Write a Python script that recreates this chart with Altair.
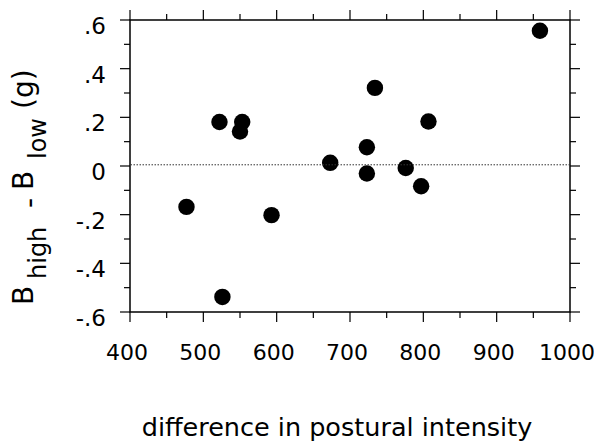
import altair as alt
import pandas as pd

# data
x_vals = [959, 807, 776, 797, 522, 553, 550, 723, 673, 723, 477, 593, 526, 734]
y_vals = [0.556, 0.183, -0.008, -0.083, 0.181, 0.181, 0.142, 0.077, 0.013, -0.031, -0.168, -0.202, -0.538, 0.321]
ref_line = [0.005]

x_major = [400, 500, 600, 700, 800, 900, 1000]
x_labels = ["400", "500", "600", "700", "800", "900", "1000"]
x_minor = [450, 550, 650, 750, 850, 950]
y_major = [-0.6, -0.4, -0.2, 0.0, 0.2, 0.4, 0.6]
y_labels = ["-.6", "-.4", "-.2", "0", ".2", ".4", ".6"]
y_minor = [-0.5, -0.3, -0.1, 0.1, 0.3, 0.5]

x_title = "difference in postural intensity"
y_title_parts = ["B", "high", "-", "B", "low", "(g)"]

W, H = 440, 292
FONT = "DejaVu Sans"

pts = pd.DataFrame({"x": x_vals, "y": y_vals})
xs = alt.Scale(domain=[400, 1000], nice=False, zero=False)
ys = alt.Scale(domain=[-0.6, 0.6], nice=False, zero=False)

points = alt.Chart(pts).mark_circle(size=270, color="black", opacity=1).encode(
    x=alt.X("x:Q", scale=xs, axis=None),
    y=alt.Y("y:Q", scale=ys, axis=None),
)

ref = alt.Chart(pd.DataFrame({"r": ref_line})).mark_rule(
    color="#333", strokeWidth=1, strokeDash=[1.5, 1.5]
).encode(y=alt.Y("r:Q", scale=ys, axis=None))

def xticks(vals, y0, y1):
    return alt.Chart(pd.DataFrame({"v": vals})).mark_rule(color="black", strokeWidth=1.2).encode(
        x=alt.X("v:Q", scale=xs, axis=None), y=alt.value(y0), y2=alt.value(y1))

def yticks(vals, x0, x1):
    return alt.Chart(pd.DataFrame({"v": vals})).mark_rule(color="black", strokeWidth=1.2).encode(
        y=alt.Y("v:Q", scale=ys, axis=None), x=alt.value(x0), x2=alt.value(x1))

ticks = [
    xticks(x_major, H, H + 10),
    xticks(x_minor, H, H + 6),
    xticks(x_major, 0, -10),
    xticks(x_minor, 0, -6),
    yticks(y_major, 0, -10),
    yticks(y_minor, 0, -6),
    yticks(y_major, W, W + 10),
    yticks(y_minor, W, W + 6),
]

xlab = alt.Chart(pd.DataFrame({"v": x_major, "t": x_labels})).mark_text(
    font=FONT, fontSize=22, color="black", baseline="alphabetic", align="center", dx=-3
).encode(x=alt.X("v:Q", scale=xs, axis=None), y=alt.value(H + 48), text="t:N")

ylab = alt.Chart(pd.DataFrame({"v": y_major, "t": y_labels})).mark_text(
    font=FONT, fontSize=23, color="black", baseline="alphabetic", align="right", dy=14
).encode(y=alt.Y("v:Q", scale=ys, axis=None), x=alt.value(-24), text="t:N")

dummy = pd.DataFrame({"a": [0]})

def txt(s, x, y, size, angle=0, align="center"):
    return alt.Chart(dummy).mark_text(
        font=FONT, fontSize=size, color="black", angle=angle, align=align,
        baseline="alphabetic"
    ).encode(x=alt.value(x), y=alt.value(y), text=alt.value(s))

title_x = txt(x_title, 207, 416, 25.5)
ypos = [(285, -97, 28), (259, -84, 24), (188, -91, 28), (170, -97, 28), (139, -84, 24), (89, -97, 28)]
title_y = [txt(s, px, py, sz, angle=270, align="left")
           for s, (py, px, sz) in zip(y_title_parts, ypos)]

chart = alt.layer(points, ref, *ticks, xlab, ylab, title_x, *title_y).properties(
    width=W, height=H,
    autosize=alt.AutoSizeParams(type="none"),
    padding={"left": 122, "top": 12, "right": 24, "bottom": 129},
).configure_view(stroke="black", strokeWidth=1.5)

chart.save("out.html", embed_options={"renderer": "svg", "actions": False})
